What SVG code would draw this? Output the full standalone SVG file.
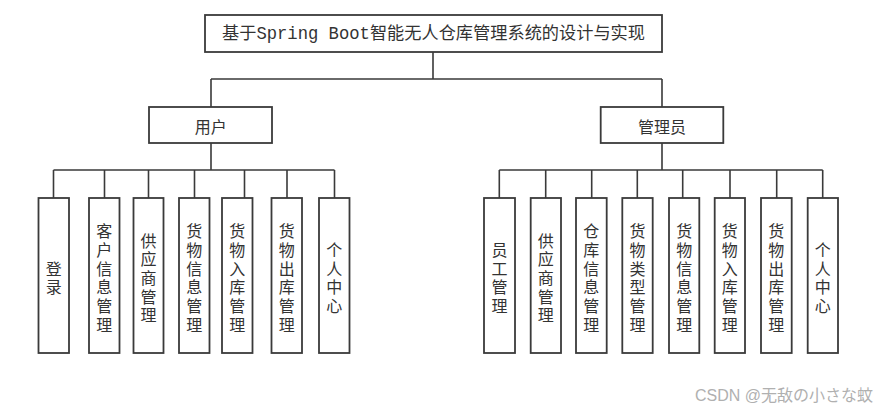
<svg xmlns="http://www.w3.org/2000/svg" width="878" height="410" viewBox="0 0 878 410">
<style>
.box{fill:#fff;stroke:#3a3a3a;stroke-width:1.8}
.ln{fill:none;stroke:#3a3a3a;stroke-width:1.6}
.t{font-family:"Noto Sans CJK SC","Liberation Sans",sans-serif;fill:#333;text-anchor:middle;dominant-baseline:central}
.v{font-size:16px}
.m{font-size:16px}
.title{font-family:"Liberation Mono","Noto Sans CJK SC",monospace;font-size:17.5px;fill:#333;text-anchor:middle;dominant-baseline:central}
.wm{font-family:"Liberation Sans","Noto Sans CJK JP",sans-serif;font-size:16px;fill:#b0b0b0;text-anchor:end;dominant-baseline:central}
</style>
<rect width="878" height="410" fill="#fff"/>
<g id="connectors">
<path class="ln" d="M433 52V79M211 79H662M211 79V107M662 79V107"/>
<path class="ln" d="M211 143V170M53.5 170H334.5M53.5 170V198M104.5 170V198M148.5 170V198M194.5 170V198M244.5 170V198M287 170V198M334.5 170V198"/>
<path class="ln" d="M662 143V170M499.3 170H822.7M499.3 170V198M545.7 170V198M591.7 170V198M637.3 170V198M682.7 170V198M730 170V198M776.7 170V198M822.7 170V198"/>
</g>
<g id="root"><rect class="box" x="205" y="15" width="457" height="37"/><text class="title" x="433.5" y="34" textLength="423" lengthAdjust="spacingAndGlyphs">基于Spring Boot智能无人仓库管理系统的设计与实现</text></g>
<g id="user"><rect class="box" x="149" y="107" width="123" height="36"/><text class="t m" x="210.7" y="125.5">用户</text></g>
<g id="admin"><rect class="box" x="600.7" y="107" width="122.6" height="36"/><text class="t m" x="662" y="125.5">管理员</text></g>

<g id="u1"><rect class="box" x="38.5" y="198" width="30.5" height="155"/><text class="t v"><tspan x="53.75" y="267.65">登</tspan><tspan x="53.75" y="286.35">录</tspan></text></g>
<g id="u2"><rect class="box" x="89" y="198" width="30.5" height="155"/><text class="t v"><tspan x="104.25" y="230.25">客</tspan><tspan x="104.25" y="248.95">户</tspan><tspan x="104.25" y="267.65">信</tspan><tspan x="104.25" y="286.35">息</tspan><tspan x="104.25" y="305.05">管</tspan><tspan x="104.25" y="323.75">理</tspan></text></g>
<g id="u3"><rect class="box" x="133.5" y="198" width="30" height="155"/><text class="t v"><tspan x="148.5" y="239.6">供</tspan><tspan x="148.5" y="258.3">应</tspan><tspan x="148.5" y="277">商</tspan><tspan x="148.5" y="295.7">管</tspan><tspan x="148.5" y="314.4">理</tspan></text></g>
<g id="u4"><rect class="box" x="179" y="198" width="30.5" height="155"/><text class="t v"><tspan x="194.25" y="230.25">货</tspan><tspan x="194.25" y="248.95">物</tspan><tspan x="194.25" y="267.65">信</tspan><tspan x="194.25" y="286.35">息</tspan><tspan x="194.25" y="305.05">管</tspan><tspan x="194.25" y="323.75">理</tspan></text></g>
<g id="u5"><rect class="box" x="222" y="198" width="30.5" height="155"/><text class="t v"><tspan x="237.25" y="230.25">货</tspan><tspan x="237.25" y="248.95">物</tspan><tspan x="237.25" y="267.65">入</tspan><tspan x="237.25" y="286.35">库</tspan><tspan x="237.25" y="305.05">管</tspan><tspan x="237.25" y="323.75">理</tspan></text></g>
<g id="u6"><rect class="box" x="271.5" y="198" width="30.5" height="155"/><text class="t v"><tspan x="286.75" y="230.25">货</tspan><tspan x="286.75" y="248.95">物</tspan><tspan x="286.75" y="267.65">出</tspan><tspan x="286.75" y="286.35">库</tspan><tspan x="286.75" y="305.05">管</tspan><tspan x="286.75" y="323.75">理</tspan></text></g>
<g id="u7"><rect class="box" x="319" y="198" width="30.5" height="155"/><text class="t v"><tspan x="334.25" y="248.95">个</tspan><tspan x="334.25" y="267.65">人</tspan><tspan x="334.25" y="286.35">中</tspan><tspan x="334.25" y="305.05">心</tspan></text></g>

<g id="a1"><rect class="box" x="484" y="198" width="31" height="155"/><text class="t v"><tspan x="499.5" y="248.95">员</tspan><tspan x="499.5" y="267.65">工</tspan><tspan x="499.5" y="286.35">管</tspan><tspan x="499.5" y="305.05">理</tspan></text></g>
<g id="a2"><rect class="box" x="530.7" y="198" width="30.3" height="155"/><text class="t v"><tspan x="545.85" y="239.6">供</tspan><tspan x="545.85" y="258.3">应</tspan><tspan x="545.85" y="277">商</tspan><tspan x="545.85" y="295.7">管</tspan><tspan x="545.85" y="314.4">理</tspan></text></g>
<g id="a3"><rect class="box" x="576" y="198" width="30.7" height="155"/><text class="t v"><tspan x="591.35" y="230.25">仓</tspan><tspan x="591.35" y="248.95">库</tspan><tspan x="591.35" y="267.65">信</tspan><tspan x="591.35" y="286.35">息</tspan><tspan x="591.35" y="305.05">管</tspan><tspan x="591.35" y="323.75">理</tspan></text></g>
<g id="a4"><rect class="box" x="622.3" y="198" width="30.4" height="155"/><text class="t v"><tspan x="637.5" y="230.25">货</tspan><tspan x="637.5" y="248.95">物</tspan><tspan x="637.5" y="267.65">类</tspan><tspan x="637.5" y="286.35">型</tspan><tspan x="637.5" y="305.05">管</tspan><tspan x="637.5" y="323.75">理</tspan></text></g>
<g id="a5"><rect class="box" x="669" y="198" width="30.3" height="155"/><text class="t v"><tspan x="684.15" y="230.25">货</tspan><tspan x="684.15" y="248.95">物</tspan><tspan x="684.15" y="267.65">信</tspan><tspan x="684.15" y="286.35">息</tspan><tspan x="684.15" y="305.05">管</tspan><tspan x="684.15" y="323.75">理</tspan></text></g>
<g id="a6"><rect class="box" x="714.7" y="198" width="30.3" height="155"/><text class="t v"><tspan x="729.85" y="230.25">货</tspan><tspan x="729.85" y="248.95">物</tspan><tspan x="729.85" y="267.65">入</tspan><tspan x="729.85" y="286.35">库</tspan><tspan x="729.85" y="305.05">管</tspan><tspan x="729.85" y="323.75">理</tspan></text></g>
<g id="a7"><rect class="box" x="761" y="198" width="30.7" height="155"/><text class="t v"><tspan x="776.35" y="230.25">货</tspan><tspan x="776.35" y="248.95">物</tspan><tspan x="776.35" y="267.65">出</tspan><tspan x="776.35" y="286.35">库</tspan><tspan x="776.35" y="305.05">管</tspan><tspan x="776.35" y="323.75">理</tspan></text></g>
<g id="a8"><rect class="box" x="807.7" y="198" width="30.3" height="155"/><text class="t v"><tspan x="822.85" y="248.95">个</tspan><tspan x="822.85" y="267.65">人</tspan><tspan x="822.85" y="286.35">中</tspan><tspan x="822.85" y="305.05">心</tspan></text></g>

<text class="wm" x="873" y="395">CSDN @无敌の小さな蚊</text>
</svg>
